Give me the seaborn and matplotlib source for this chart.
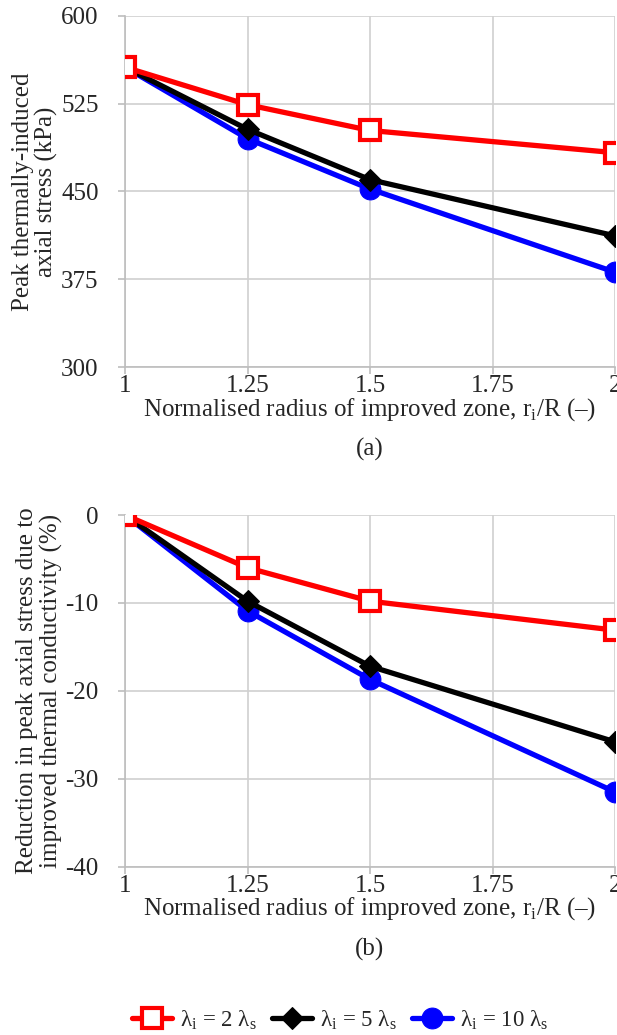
import matplotlib
matplotlib.use("Agg")
import matplotlib.pyplot as plt
import seaborn as sns
import pandas as pd

# Normalised radius of improved zone r_i/R
radius = [1.0, 1.25, 1.5, 2.0]

# (a) peak thermally-induced axial stress (kPa)
stress_2 = [556, 524, 502, 483]
stress_5 = [556, 503, 460, 412]
stress_10 = [556, 495, 452, 381]

# (b) reduction in peak axial stress (%)
red_2 = [0, -6.0, -9.8, -13.1]
red_5 = [0, -9.8, -17.2, -25.8]
red_10 = [0, -10.9, -18.7, -31.5]

labels = [r"λ$_\mathregular{i}$ = 2 λ$_\mathregular{s}$",
          r"λ$_\mathregular{i}$ = 5 λ$_\mathregular{s}$",
          r"λ$_\mathregular{i}$ = 10 λ$_\mathregular{s}$"]

sns.set_style("white")
plt.rcParams["font.family"] = ["Liberation Serif", "DejaVu Serif"]
plt.rcParams["mathtext.fontset"] = "custom"
plt.rcParams["mathtext.rm"] = "Liberation Serif"
plt.rcParams["axes.unicode_minus"] = False

FS = 18
GRID = "#d0d0d0"

styles = {
    labels[0]: dict(color="red", marker="s", markersize=14, markerfacecolor="white",
                    markeredgecolor="red", markeredgewidth=3, zorder=5),
    labels[1]: dict(color="black", marker="D", markersize=11.5, markerfacecolor="black",
                    markeredgecolor="black", zorder=4),
    labels[2]: dict(color="blue", marker="o", markersize=15, markerfacecolor="blue",
                    markeredgecolor="blue", zorder=3),
}

fig = plt.figure(figsize=(6.17, 10.35), dpi=100)
ax_a = fig.add_axes([125 / 617, 1 - 367 / 1035, 490 / 617, 351.3 / 1035])
ax_b = fig.add_axes([125 / 617, 1 - 866.7 / 1035, 490 / 617, 351.7 / 1035])


def draw(ax, series, ylim, yticks, ylabel, tag):
    for lab in reversed(labels):
        df = pd.DataFrame({"x": radius, "y": series[lab]})
        sns.lineplot(data=df, x="x", y="y", ax=ax, linewidth=3.8, label=lab,
                     legend=False, **styles[lab])
    ax.set_xlim(1, 2)
    ax.set_ylim(*ylim)
    ax.set_xticks([1, 1.25, 1.5, 1.75, 2])
    ax.set_xticklabels(["1", "1.25", "1.5", "1.75", "2"])
    ax.set_yticks(yticks)
    ax.grid(True, color=GRID, linewidth=1.2)
    ax.set_axisbelow(True)
    for s in ["top", "right"]:
        ax.spines[s].set_visible(False)
    for s in ["left", "bottom"]:
        ax.spines[s].set_color("#bdbdbd")
        ax.spines[s].set_linewidth(1.2)
    ax.tick_params(axis="both", direction="out", length=5, width=1.2, color="#bdbdbd",
                   labelsize=FS, left=True, bottom=True)
    ax.tick_params(axis="x", pad=1)
    ax.tick_params(axis="y", pad=14)
    ax.set_xlabel("Normalised radius of improved zone, r$_\\mathregular{i}$/R (–)",
                  fontsize=FS, labelpad=-1)
    ax.set_ylabel(ylabel, fontsize=FS, labelpad=2, linespacing=1.08)
    ax.text(0.5, -0.235, tag, transform=ax.transAxes, ha="center", va="center", fontsize=FS)


draw(ax_a, dict(zip(labels, [stress_2, stress_5, stress_10])), (300, 600),
     [300, 375, 450, 525, 600], "Peak thermally-induced\naxial stress (kPa)", "(a)")
draw(ax_b, dict(zip(labels, [red_2, red_5, red_10])), (-40, 0),
     [-40, -30, -20, -10, 0],
     "Reduction in peak axial stress due to\nimproved thermal conductivity (%)", "(b)")

handles, labs = ax_a.get_legend_handles_labels()
order = [labs.index(l) for l in labels]
leg = fig.legend([handles[i] for i in order], [labs[i] for i in order],
                 loc="center", bbox_to_anchor=(340 / 617, 1 - 1020 / 1035), ncol=3,
                 frameon=False, fontsize=16.5, handlelength=1.75, columnspacing=0.65,
                 handletextpad=0.35, markerscale=1.0)

fig.savefig("out.png", dpi=100)
